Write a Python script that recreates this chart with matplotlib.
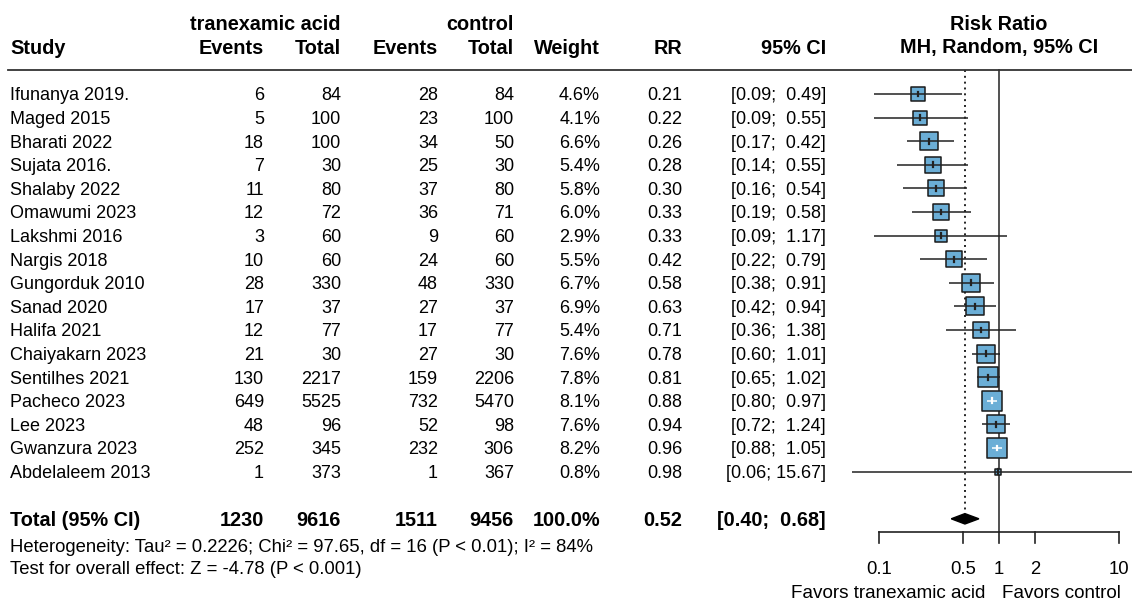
import numpy as np
import matplotlib
matplotlib.use("Agg")
import matplotlib.pyplot as plt

plt.rcParams['font.family'] = ['Liberation Sans', 'DejaVu Sans']

studies = ["Ifunanya 2019.", "Maged 2015", "Bharati 2022", "Sujata 2016.", "Shalaby 2022",
           "Omawumi 2023", "Lakshmi 2016", "Nargis 2018", "Gungorduk 2010", "Sanad 2020",
           "Halifa 2021", "Chaiyakarn 2023", "Sentilhes 2021", "Pacheco 2023", "Lee 2023",
           "Gwanzura 2023", "Abdelaleem 2013"]
txa_events = [6, 5, 18, 7, 11, 12, 3, 10, 28, 17, 12, 21, 130, 649, 48, 252, 1]
txa_total = [84, 100, 100, 30, 80, 72, 60, 60, 330, 37, 77, 30, 2217, 5525, 96, 345, 373]
ctl_events = [28, 23, 34, 25, 37, 36, 9, 24, 48, 27, 17, 27, 159, 732, 52, 232, 1]
ctl_total = [84, 100, 50, 30, 80, 71, 60, 60, 330, 37, 77, 30, 2206, 5470, 98, 306, 367]
weights = [4.6, 4.1, 6.6, 5.4, 5.8, 6.0, 2.9, 5.5, 6.7, 6.9, 5.4, 7.6, 7.8, 8.1, 7.6, 8.2, 0.8]
rr = [0.21, 0.22, 0.26, 0.28, 0.30, 0.33, 0.33, 0.42, 0.58, 0.63, 0.71, 0.78, 0.81, 0.88, 0.94, 0.96, 0.98]
ci_lo = [0.09, 0.09, 0.17, 0.14, 0.16, 0.19, 0.09, 0.22, 0.38, 0.42, 0.36, 0.60, 0.65, 0.80, 0.72, 0.88, 0.06]
ci_hi = [0.49, 0.55, 0.42, 0.55, 0.54, 0.58, 1.17, 0.79, 0.91, 0.94, 1.38, 1.01, 1.02, 0.97, 1.24, 1.05, 15.67]

total_txa_events, total_txa_total = 1230, 9616
total_ctl_events, total_ctl_total = 1511, 9456
total_weight = 100.0
total_rr, total_lo, total_hi = 0.52, 0.40, 0.68
het_text = "Heterogeneity: Tau\u00b2 = 0.2226; Chi\u00b2 = 97.65, df = 16 (P < 0.01); I\u00b2 = 84%"
overall_text = "Test for overall effect: Z = -4.78 (P < 0.001)"
xticks = [0.1, 0.5, 1, 2, 10]
xticklabels = ["0.1", "0.5", "1", "2", "10"]

W, H = 1132, 601
fig = plt.figure(figsize=(W / 100, H / 100), dpi=100)
fig.patch.set_facecolor("white")

# layout: row k at pixel y = Y0 + k*DY
Y0, DY = 94.0, 23.6
def ypx(k):
    return Y0 + k * DY

FS = 13
FSB = 14.3
def T(x, y, s, ha="right", bold=False, **kw):
    fs = kw.pop("fs", FSB if bold else FS)
    fig.text(x / W, 1 - y / H, s, ha=ha, va="center_baseline", fontsize=fs,
             fontweight="bold" if bold else "normal", **kw)

# headers
T(341, 22, "tranexamic acid", bold=True)
T(514, 22, "control", bold=True)
T(999, 22, "Risk Ratio", ha="center", bold=True)
T(10, 46, "Study", ha="left", bold=True)
for x, s in [(264, "Events"), (341, "Total"), (438, "Events"), (514, "Total"),
             (600, "Weight"), (682, "RR"), (826, "95% CI")]:
    T(x, 46, s, bold=True)
T(999, 46, "MH, Random, 95% CI", ha="center", bold=True)

# header rule
fig.add_artist(plt.Line2D([8 / W, 1], [1 - 70 / H, 1 - 70 / H], color="#333333", lw=1.3))

def ci_str(lo, hi):
    lo_s, hi_s = f"{lo:.2f}", f"{hi:.2f}"
    pad = " " * (1 + (5 - len(hi_s)))
    return f"[{lo_s};{pad}{hi_s}]"

for i, name in enumerate(studies):
    y = ypx(i)
    T(10, y, name, ha="left")
    T(264, y, str(txa_events[i]))
    T(341, y, str(txa_total[i]))
    T(438, y, str(ctl_events[i]))
    T(514, y, str(ctl_total[i]))
    T(600, y, f"{weights[i]:.1f}%")
    T(682, y, f"{rr[i]:.2f}")
    T(826, y, ci_str(ci_lo[i], ci_hi[i]))

k_tot = 18.0
yt = ypx(k_tot)
T(10, yt, "Total (95% CI)", ha="left", bold=True)
T(264, yt, str(total_txa_events), bold=True)
T(341, yt, str(total_txa_total), bold=True)
T(438, yt, str(total_ctl_events), bold=True)
T(514, yt, str(total_ctl_total), bold=True)
T(600, yt, f"{total_weight:.1f}%", bold=True)
T(682, yt, f"{total_rr:.2f}", bold=True)
T(826, yt, ci_str(total_lo, total_hi), bold=True)
T(10, 546, het_text, ha="left", fs=13.3)
T(10, 567, overall_text, ha="left", fs=13.3)

# forest axes
x0px = 840
ax = fig.add_axes([x0px / W, 0, 1 - x0px / W, 1])
ax.set_xscale("log")
ppd = 120.0  # pixels per decade
xref = 999.0  # pixel of x=1
ax.set_xlim(10 ** ((x0px - xref) / ppd), 10 ** ((W - xref) / ppd))
ax.set_ylim((H - Y0) / DY, -Y0 / DY)
ax.axis("off")

k_top = (70 - Y0) / DY
k_axis = (532 - Y0) / DY
# reference line at 1
ax.plot([1, 1], [k_top, k_axis], color="#333333", lw=1.2, zorder=1)
# dotted line at pooled
ax.plot([total_rr, total_rr], [k_top, k_tot - 0.28], color="#222222", lw=1.4,
        ls=(0, (1, 2)), zorder=1)

side_scale = 6.9  # px per sqrt(weight)
for i in range(len(studies)):
    side_px = side_scale * np.sqrt(weights[i])
    ci_px = (np.log10(ci_hi[i]) - np.log10(ci_lo[i])) * ppd
    col = "white" if ci_px < side_px else "#222222"
    ax.scatter([rr[i]], [i], marker="s", s=(side_px * 0.72) ** 2 - 3,
               facecolor="#6baed6", edgecolor="#1a1a1a", linewidth=1.1, zorder=3)
    ax.plot([ci_lo[i], ci_hi[i]], [i, i], color=col, lw=1.1, zorder=4,
            solid_capstyle="butt")
    ax.plot([rr[i], rr[i]], [i - 0.1, i + 0.1], color=col, lw=1.6, zorder=5)

# diamond
ax.fill([total_lo, total_rr, total_hi, total_rr], [k_tot, k_tot - 0.22, k_tot, k_tot + 0.22],
        color="black", zorder=5)

# x axis
tick_len = 11 / DY
ax.plot([xticks[0], xticks[-1]], [k_axis, k_axis], color="#222222", lw=1.2, clip_on=False)
for t, lab in zip(xticks, xticklabels):
    ax.plot([t, t], [k_axis, k_axis + tick_len], color="#222222", lw=1.2, clip_on=False)
    ax.text(t, (568 - Y0) / DY, lab, ha="center", va="center_baseline", fontsize=13.3)

T(985, 592, "Favors tranexamic acid", ha="right", fs=13.6)
T(1002, 592, "Favors control", ha="left", fs=13.6)

fig.savefig("out.png", dpi=100, facecolor="white")
